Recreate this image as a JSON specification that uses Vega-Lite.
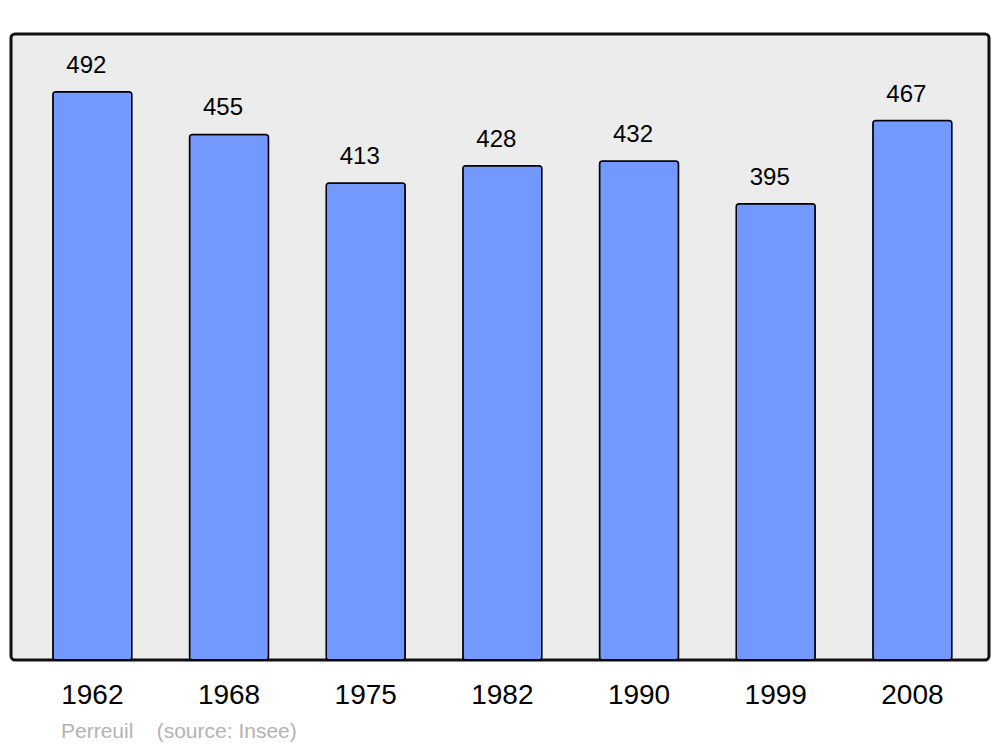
{
  "$schema": "https://vega.github.io/schema/vega-lite/v6.json",
  "width": 978,
  "height": 626,
  "autosize": {"type": "none"},
  "padding": {"left": 11, "top": 34, "right": 11, "bottom": 87},
  "background": "white",
  "config": {
    "view": {"fill": "#ececec", "stroke": "#111111", "strokeWidth": 3, "cornerRadius": 4},
    "font": "Liberation Sans"
  },
  "title": {
    "text": "Perreuil\u00a0\u00a0\u00a0\u00a0(source: Insee)",
    "orient": "bottom",
    "anchor": "start",
    "dx": 50,
    "offset": 12,
    "fontSize": 21,
    "fontWeight": "normal",
    "color": "#b3b3b3",
    "font": "Liberation Sans",
    "baseline": "top"
  },
  "data": {
    "values": [
      {"year": "1962", "pop": 492},
      {"year": "1968", "pop": 455},
      {"year": "1975", "pop": 413},
      {"year": "1982", "pop": 428},
      {"year": "1990", "pop": 432},
      {"year": "1999", "pop": 395},
      {"year": "2008", "pop": 467}
    ]
  },
  "encoding": {
    "x": {
      "field": "year",
      "type": "ordinal",
      "scale": {"paddingInner": 0.422, "paddingOuter": 0.289, "align": 0.53, "round": false},
      "axis": {
        "title": null,
        "domain": false,
        "ticks": false,
        "tickSize": 0,
        "labelFontSize": 28,
        "labelFont": "Liberation Sans",
        "labelColor": "#000000",
        "labelPadding": 35,
        "labelBaseline": "middle",
        "labelAngle": 0
      }
    },
    "y": {
      "field": "pop",
      "type": "quantitative",
      "scale": {"domain": [0, 542], "nice": false, "zero": true},
      "axis": null
    }
  },
  "layer": [
    {
      "mark": {"type": "bar", "fill": "#7399ff", "stroke": "#000000", "strokeWidth": 1.5, "cornerRadius": 3}
    },
    {
      "mark": {"type": "text", "baseline": "middle", "align": "center", "dy": -26, "dx": -6, "fontSize": 24, "font": "Liberation Sans", "color": "#000000"},
      "encoding": {"text": {"field": "pop", "type": "quantitative"}}
    }
  ]
}
